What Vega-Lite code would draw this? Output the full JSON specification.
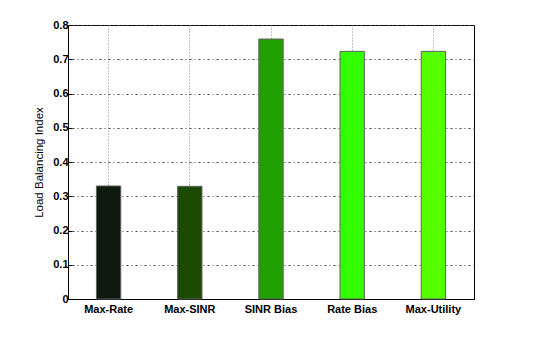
{
  "$schema": "https://vega.github.io/schema/vega-lite/v6.json",
  "width": 406,
  "height": 274,
  "autosize": {"type": "none"},
  "padding": {"left": 68, "top": 25, "right": 80, "bottom": 38},
  "background": "white",
  "config": {
    "view": {"stroke": "black", "strokeWidth": 1},
    "font": "Liberation Sans"
  },
  "data": {
    "values": [
      {"scheme": "Max-Rate", "value": 0.33, "color": "#0f1a0f"},
      {"scheme": "Max-SINR", "value": 0.329, "color": "#1a4a00"},
      {"scheme": "SINR Bias", "value": 0.759, "color": "#1fa000"},
      {"scheme": "Rate Bias", "value": 0.723, "color": "#33ff00"},
      {"scheme": "Max-Utility", "value": 0.723, "color": "#55ff00"}
    ]
  },
  "mark": {"type": "bar", "stroke": "#606060", "strokeWidth": 1},
  "encoding": {
    "x": {
      "field": "scheme",
      "type": "nominal",
      "sort": null,
      "scale": {"paddingInner": 0.7, "paddingOuter": 0.35},
      "axis": {
        "title": null,
        "labelAngle": 0,
        "labelFont": "Liberation Sans",
        "labelFontSize": 11,
        "labelFontWeight": "bold",
        "labelColor": "black",
        "labelPadding": 8,
        "domainColor": "black",
        "tickSize": -4,
        "tickColor": "black",
        "grid": true,
        "gridColor": "#888888",
        "gridDash": [1, 2],
        "gridWidth": 1
      }
    },
    "y": {
      "field": "value",
      "type": "quantitative",
      "scale": {"domain": [0, 0.8], "nice": false},
      "axis": {
        "title": "Load Balancing Index",
        "titleFont": "Liberation Sans",
        "titleFontSize": 11.5,
        "titleFontWeight": 500,
        "titleColor": "black",
        "titlePadding": 8,
        "values": [0, 0.1, 0.2, 0.3, 0.4, 0.5, 0.6, 0.7, 0.8],
        "labelExpr": "datum.value == 0 ? '0' : format(datum.value, '.1f')",
        "labelFont": "Liberation Sans",
        "labelFontSize": 11,
        "labelFontWeight": "bold",
        "labelColor": "black",
        "labelPadding": 4,
        "domainColor": "black",
        "tickSize": -4,
        "tickColor": "black",
        "grid": true,
        "gridColor": "#444444",
        "gridDash": [1, 3, 2, 3],
        "gridWidth": 1
      }
    },
    "color": {"field": "color", "type": "nominal", "scale": null, "legend": null}
  }
}
